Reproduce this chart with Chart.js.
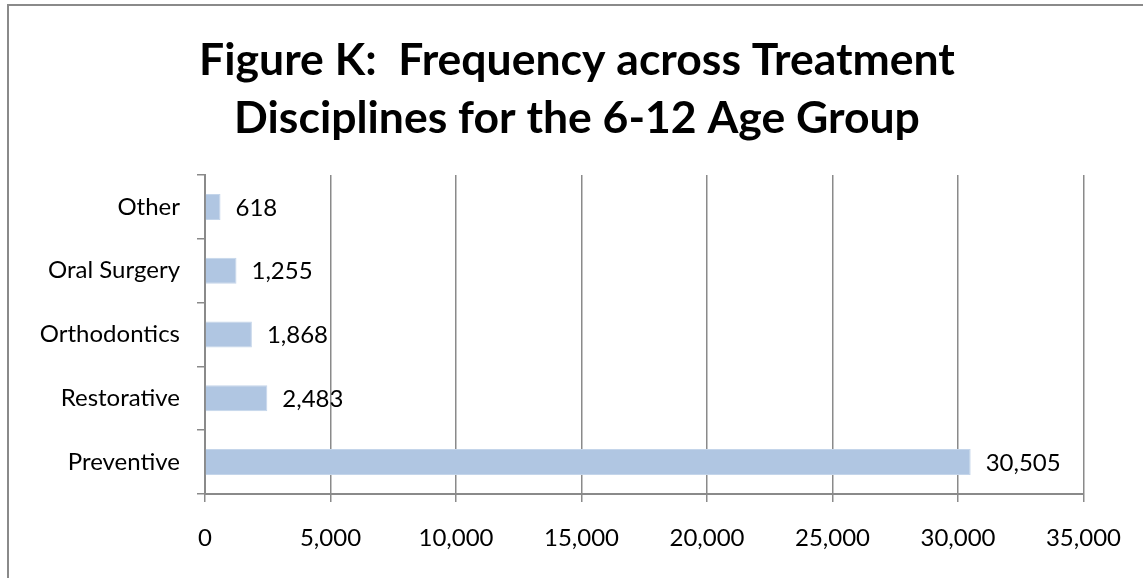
<!DOCTYPE html>
<html>
<head>
<meta charset="utf-8">
<script src="https://cdn.jsdelivr.net/npm/chart.js@4"></script>
<style>
  body { margin: 0; background: #fff; overflow: hidden; }
  #frame {
    position: absolute; left: 7px; top: 4px;
    width: 1150px; height: 590px;
    border-left: 2px solid #8a8a8a; border-top: 2px solid #8a8a8a;
  }
  #wrap { position: absolute; left: 9px; top: 6px; width: 1134px; height: 572px; }
</style>
</head>
<body>
<div id="frame"></div>
<div id="wrap"><canvas id="freqChart" width="1134" height="572"></canvas></div>
<script>
const categories = ["Other", "Oral Surgery", "Orthodontics", "Restorative", "Preventive"];
const frequency = [618, 1255, 1868, 2483, 30505];
const titleLines = ["Figure K:  Frequency across Treatment", "Disciplines for the 6-12 Age Group"];

const fontFamily = "Lato, 'Open Sans', sans-serif";

// title centred on the whole canvas (the built-in one centres on the padded area)
const centredTitle = {
    id: "centredTitle",
    afterDraw(chart) {
        const ctx = chart.ctx;
        ctx.save();
        ctx.font = "bold 44.5px " + fontFamily;
        ctx.fillStyle = "#000";
        ctx.textAlign = "center";
        ctx.textBaseline = "middle";
        titleLines.forEach((line, i) => {
            ctx.fillText(line, chart.width / 2 + 1, 55 + i * 58);
        });
        ctx.restore();
    }
};

// draws the value next to each bar
const valueLabels = {
    id: "valueLabels",
    afterDatasetsDraw(chart) {
        const ctx = chart.ctx;
        const meta = chart.getDatasetMeta(0);
        ctx.save();
        ctx.font = "24px " + fontFamily;
        ctx.fillStyle = "#000";
        ctx.textAlign = "left";
        ctx.textBaseline = "middle";
        meta.data.forEach((bar, i) => {
            ctx.fillText(frequency[i].toLocaleString("en-US"), bar.x + 15, bar.y + 1);
        });
        ctx.restore();
    }
};

const ctx = document.getElementById("freqChart").getContext("2d");
new Chart(ctx, {
    type: "bar",
    data: {
        labels: categories,
        datasets: [{
            data: frequency,
            backgroundColor: "#b0c6e2",
            borderColor: "#c4d5ea",
            borderWidth: 1,
            barPercentage: 0.8,
            categoryPercentage: 0.51
        }]
    },
    options: {
        indexAxis: "y",
        responsive: false,
        animation: false,
        devicePixelRatio: 1,
        layout: { padding: { left: 0, right: 57, top: 169, bottom: 0 } },
        plugins: {
            legend: { display: false },
            tooltip: { enabled: false },
            title: { display: false }
        },
        scales: {
            x: {
                min: 0, max: 35000,
                afterFit: scale => { scale.height = 84; },
                ticks: {
                    stepSize: 5000,
                    color: "#000",
                    font: { family: fontFamily, size: 24 },
                    padding: 22,
                    callback: v => v.toLocaleString("en-US")
                },
                grid: { color: "#8a8a8a", lineWidth: 1.5, tickLength: 8 },
                border: { color: "#8a8a8a", width: 2 }
            },
            y: {
                afterFit: scale => { scale.width = 196; },
                ticks: {
                    color: "#000",
                    font: { family: fontFamily, size: 24 },
                    padding: 17
                },
                grid: { offset: true, drawOnChartArea: false, color: "#8a8a8a", lineWidth: 1.5, tickLength: 8 },
                border: { color: "#8a8a8a", width: 2 }
            }
        }
    },
    plugins: [valueLabels, centredTitle]
});
</script>
</body>
</html>
